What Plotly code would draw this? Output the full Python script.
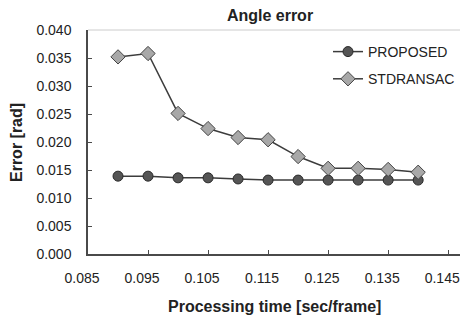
import plotly.graph_objects as go

x_time = [0.090, 0.095, 0.100, 0.105, 0.110, 0.115, 0.120, 0.125, 0.130, 0.135, 0.140]
proposed = [0.0139, 0.0139, 0.0136, 0.0136, 0.0134, 0.0132, 0.0132, 0.0132, 0.0132, 0.0132, 0.0132]
stdransac = [0.0352, 0.0358, 0.0251, 0.0224, 0.0208, 0.0204, 0.0174, 0.0153, 0.0153, 0.0151, 0.0146]
x_ticks = [0.085, 0.095, 0.105, 0.115, 0.125, 0.135, 0.145]
y_ticks = [0.000, 0.005, 0.010, 0.015, 0.020, 0.025, 0.030, 0.035, 0.040]

font = "Liberation Sans, Arial, sans-serif"
txt = "#222222"

# page has an 8px body margin; figure coordinates = page - 8
OFF = 8
W, H = 468 - OFF, 321 - OFF
L, T = 88 - OFF, 30 - OFF
B = H - (254 - OFF)
PW, PH = W - L, H - T - B

fig = go.Figure()
fig.add_trace(go.Scatter(
    x=x_time, y=proposed, name="PROPOSED", mode="lines+markers", legendgroup="a",
    line=dict(color="#3c3c3c", width=1.5),
    marker=dict(symbol="circle", size=10, color="#555555", line=dict(color="#2a2a2a", width=1)),
))
fig.add_trace(go.Scatter(
    x=x_time, y=stdransac, name="STDRANSAC", mode="lines+markers", legendgroup="b",
    line=dict(color="#3c3c3c", width=1.5),
    marker=dict(symbol="diamond", size=11, color="#a8a8a8", line=dict(color="#444444", width=1)),
))

fig.update_layout(
    width=W, height=H,
    margin=dict(l=L, r=0, t=T, b=B, autoexpand=False),
    paper_bgcolor="white", plot_bgcolor="white",
    font=dict(family=font, size=14, color=txt),
    title=dict(text="<b>Angle error</b>", x=(270 - OFF) / W, xanchor="center",
               y=1 - (15 - OFF) / H, yanchor="middle",
               font=dict(size=16, family=font, color=txt)),
    showlegend=True,
    legend=dict(x=(328 - 88) / PW, y=1 - (36 - 30) / PH, xanchor="left", yanchor="top",
                bgcolor="rgba(0,0,0,0)",
                font=dict(size=14, family=font, color=txt), itemwidth=30,
                traceorder="grouped", tracegroupgap=6),
    xaxis=dict(
        range=[0.085, 0.1483], tickmode="array", tickvals=x_ticks,
        ticktext=[f"{v:.3f}" for v in x_ticks], automargin=False,
        showgrid=False, zeroline=False, showline=True, linecolor="#4a4a4a", linewidth=1.5,
        ticks="inside", ticklen=4, tickcolor="#4a4a4a", ticklabelstandoff=10,
        ticklabelshift=-6,
    ),
    yaxis=dict(
        range=[0, 0.040], tickmode="array", tickvals=y_ticks,
        ticktext=[f"{v:.3f}" for v in y_ticks], automargin=False,
        showgrid=False, zeroline=False, showline=True, linecolor="#4a4a4a", linewidth=1.5,
        ticks="inside", ticklen=4, tickcolor="#4a4a4a", ticklabelstandoff=12,
    ),
    annotations=[
        dict(text="<b>Processing time [sec/frame]</b>", xref="paper", yref="paper",
             x=(274 - 88) / PW, y=-(306 - 254) / PH, xanchor="center", yanchor="middle",
             showarrow=False, font=dict(size=16, family=font, color=txt)),
        dict(text="<b>Error [rad]</b>", xref="paper", yref="paper",
             x=-(88 - 16) / PW, y=(254 - 143) / PH, xanchor="center", yanchor="middle",
             textangle=-90, showarrow=False, font=dict(size=16, family=font, color=txt)),
    ],
)
fig.add_shape(type="line", xref="paper", yref="paper", x0=0, x1=1, y0=1, y1=1,
              line=dict(color="#cccccc", width=1))

fig.write_html("out.html")
